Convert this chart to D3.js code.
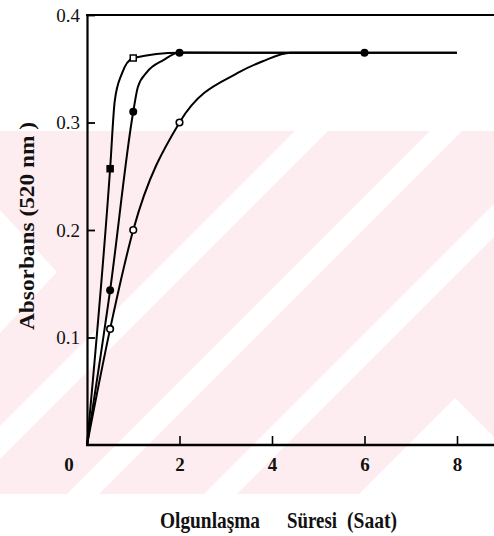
<!DOCTYPE html>
<html>
<head>
<meta charset="utf-8">
<script src="https://cdnjs.cloudflare.com/ajax/libs/d3/7.8.5/d3.min.js"></script>
<style>
body { margin: 0; background: #fff; font-family: "Liberation Serif", serif; }
#graphicContainer { width: 494px; height: 536px; }
</style>
</head>
<body>
<div id="graphicContainer"></div>
<script>

// tick values

var xTicks = [2, 4, 6, 8];
var yTicks = [0.1, 0.2, 0.3, 0.4];

// squares - fastest ripening (line trace, then marked points)

var s1Hours = [0, 0.5, 0.6, 0.75, 1, 2, 8];
var s1Abs = [0, 0.257, 0.32, 0.345, 0.36, 0.365, 0.365];
var s1MarkHours = [0.5, 1];
var s1MarkAbs = [0.257, 0.36];
var s1MarkOpen = [false, true];

// filled circles

var s2Hours = [0, 0.5, 1, 1.1, 1.3, 1.65, 2, 6];
var s2Abs = [0, 0.144, 0.31, 0.333, 0.347, 0.358, 0.365, 0.365];
var s2MarkHours = [0.5, 1, 2, 6];
var s2MarkAbs = [0.144, 0.31, 0.365, 0.365];

// open circles

var s3Hours = [0, 0.5, 1, 2, 3.3, 3.8, 4.4, 8];
var s3Abs = [0, 0.108, 0.2, 0.3, 0.347, 0.357, 0.365, 0.365];
var s3MarkHours = [0.5, 1, 2];
var s3MarkAbs = [0.108, 0.2, 0.3];

var serif = "Liberation Serif";

function zip(a, b) {
	return a.map((d, i) => [d, b[i]]);
}

function draw_chart() {

	var width = 494, height = 536;

	d3.select("#graphicContainer svg").remove();

	var svg = d3.select("#graphicContainer").append("svg")
		.attr("width", width)
		.attr("height", height)
		.attr("font-family", serif);

	// background watermark (faded pink logo with white diagonal bands)

	var wm = svg.append("g");
	var top = 131, bottom = 494, drop = bottom - top;

	wm.append("rect")
		.attr("x", 0).attr("y", top)
		.attr("width", width).attr("height", drop)
		.attr("fill", "#fdedf0");

	[[295, 328], [430, 462], [567, 600]].forEach(function(b) {
		wm.append("polygon")
			.attr("points", [[b[0], top], [b[1], top], [b[1] - drop, bottom], [b[0] - drop, bottom]].join(" "))
			.attr("fill", "#fff");
	});

	wm.append("polygon")
		.attr("points", "0,210 57,272 0,333")
		.attr("fill", "#fff");

	wm.append("polygon")
		.attr("points", "455,398 494,437 494," + bottom + " 359," + bottom)
		.attr("fill", "#fff");

	// scales

	var x = d3.scaleLinear()
		.domain([0, 8])
		.range([87, 457]);

	var y = d3.scaleLinear()
		.domain([0, 0.4])
		.range([445, 15]);

	// axes

	var yAxis = d3.axisLeft(y)
		.tickValues(yTicks)
		.tickSizeInner(-8)
		.tickSizeOuter(0)
		.tickPadding(7)
		.tickFormat(d3.format(".1f"));

	var gy = svg.append("g")
		.attr("transform", `translate(${x(0)},0)`)
		.call(yAxis)
		.attr("font-family", serif);

	gy.select(".domain").attr("stroke-width", 2.2);
	gy.selectAll(".tick line").attr("stroke-width", 1.8);
	gy.selectAll(".tick text")
		.attr("font-size", 19)
		.attr("fill", "#111");

	var xAxis = d3.axisBottom(x)
		.tickValues(xTicks)
		.tickSizeInner(-9)
		.tickSizeOuter(0)
		.tickPadding(13);

	var gx = svg.append("g")
		.attr("transform", `translate(0,${y(0)})`)
		.call(xAxis)
		.attr("font-family", serif);

	gx.select(".domain").remove();
	gx.selectAll(".tick line").attr("stroke-width", 1.6);
	gx.selectAll(".tick text")
		.attr("font-weight", "bold")
		.attr("font-size", 19)
		.attr("fill", "#111");

	// bottom axis line and top border run to the edge

	svg.append("line")
		.attr("x1", x(0) - 1).attr("x2", width)
		.attr("y1", y(0)).attr("y2", y(0))
		.attr("stroke", "#000").attr("stroke-width", 2.5);

	svg.append("line")
		.attr("x1", x(0) - 1).attr("x2", width)
		.attr("y1", y(0.4)).attr("y2", y(0.4))
		.attr("stroke", "#000").attr("stroke-width", 2);

	// shared origin label

	svg.append("text")
		.attr("x", x(0) - 18)
		.attr("y", y(0) + 26)
		.attr("text-anchor", "middle")
		.attr("font-weight", "bold")
		.attr("font-size", 19)
		.attr("fill", "#111")
		.text("0");

	// axis titles

	svg.append("text")
		.attr("transform", "translate(34,226) rotate(-90)")
		.attr("text-anchor", "middle")
		.attr("font-weight", "bold")
		.attr("font-size", 22)
		.attr("textLength", 208)
		.attr("lengthAdjust", "spacingAndGlyphs")
		.attr("fill", "#111")
		.text("Absorbans (520 nm )");

	var xTitle = [["Olgunlaşma", 160, 100], ["Süresi", 287, 50], ["(Saat)", 347, 50]];

	svg.selectAll(".xtitle")
		.data(xTitle)
		.enter()
		.append("text")
		.attr("class", "xtitle")
		.attr("x", d => d[1])
		.attr("y", 528)
		.attr("font-weight", "bold")
		.attr("font-size", 24)
		.attr("textLength", d => d[2])
		.attr("lengthAdjust", "spacingAndGlyphs")
		.attr("fill", "#111")
		.text(d => d[0]);

	// curves

	var line = d3.line()
		.x(d => x(d[0]))
		.y(d => y(d[1]))
		.curve(d3.curveMonotoneX);

	[zip(s1Hours, s1Abs), zip(s2Hours, s2Abs), zip(s3Hours, s3Abs)].forEach(function(s) {
		svg.append("path")
			.datum(s)
			.attr("d", line)
			.attr("fill", "none")
			.attr("stroke", "#000")
			.attr("stroke-width", 2);
	});

	// markers

	svg.append("g")
		.selectAll("rect")
		.data(s1MarkHours.map((d, i) => ({h: d, a: s1MarkAbs[i], open: s1MarkOpen[i]})))
		.enter()
		.append("rect")
		.attr("x", d => x(d.h) - 3)
		.attr("y", d => y(d.a) - 3)
		.attr("width", 6)
		.attr("height", 6)
		.attr("fill", d => d.open ? "#fff" : "#000")
		.attr("stroke", "#000")
		.attr("stroke-width", 1.5);

	svg.append("g")
		.selectAll("circle")
		.data(zip(s2MarkHours, s2MarkAbs))
		.enter()
		.append("circle")
		.attr("cx", d => x(d[0]))
		.attr("cy", d => y(d[1]))
		.attr("r", 4)
		.attr("fill", "#000");

	svg.append("g")
		.selectAll("circle")
		.data(zip(s3MarkHours, s3MarkAbs))
		.enter()
		.append("circle")
		.attr("cx", d => x(d[0]))
		.attr("cy", d => y(d[1]))
		.attr("r", 3.3)
		.attr("fill", "#fff")
		.attr("stroke", "#000")
		.attr("stroke-width", 1.6);
}

draw_chart();

</script>
</body>
</html>
